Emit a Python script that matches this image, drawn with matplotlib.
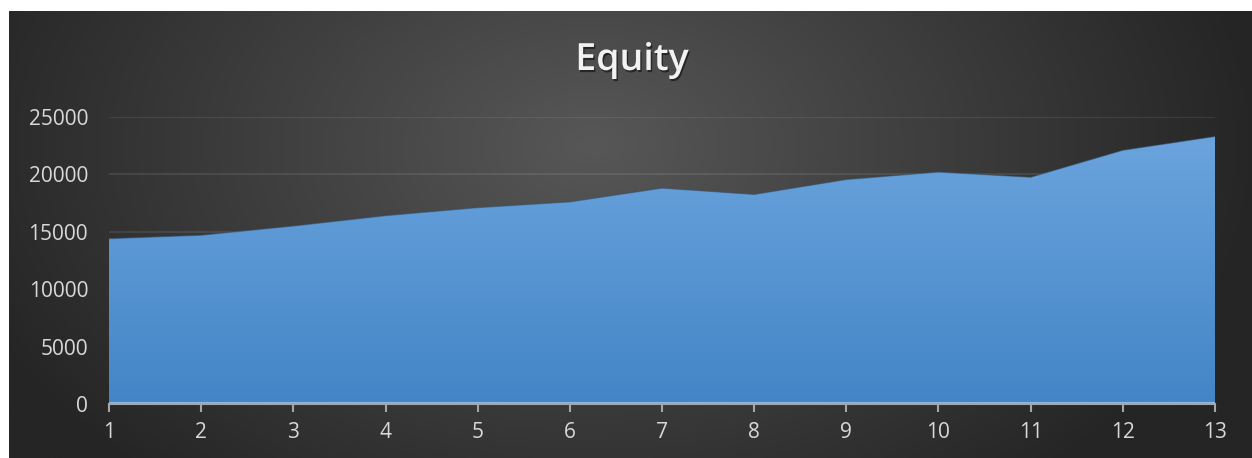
import matplotlib.pyplot as plt
import matplotlib.patheffects as pe
import numpy as np
from matplotlib.colors import LinearSegmentedColormap

# data
periods = list(range(1, 14))
equity = [14400, 14700, 15500, 16400, 17100, 17600, 18800,
          18250, 19550, 20200, 19750, 22100, 23300]
y_ticks = [0, 5000, 10000, 15000, 20000, 25000]

W, H = 1252, 458
fig = plt.figure(figsize=(W / 100, H / 100), dpi=100)
fig.patch.set_facecolor('white')

# dark radial background (starts a few px in from left/top)
bg = fig.add_axes([9 / W, 0, 1 - 9 / W, 1 - 11 / H])
bg.set_axis_off()
gx, gy = np.meshgrid(np.linspace(0, 1, 400), np.linspace(0, 1, 150))
r = np.sqrt(((gx - 0.47) / 0.75) ** 2 + ((gy - 0.3) / 1.4) ** 2)
r = np.clip(r / 0.72, 0, 1)
bg_cmap = LinearSegmentedColormap.from_list('bg', ['#575757', '#3e3e3e', '#252525'])
bg.imshow(r, cmap=bg_cmap, aspect='auto', extent=[0, 1, 0, 1], origin='upper')
bg.set_xlim(0, 1)
bg.set_ylim(0, 1)

ax = fig.add_axes([109 / W, 1 - 404 / H, (1215 - 109) / W, (404 - 117) / H])
ax.patch.set_alpha(0)
ax.set_xlim(1, 13)
ax.set_ylim(0, 25000)

# gradient-filled area
poly = ax.fill_between(periods, equity, 0, color='none')
area_cmap = LinearSegmentedColormap.from_list('area', ['#4385c7', '#6ba4dd'])
grad = np.linspace(0, 1, 256).reshape(-1, 1)
img = ax.imshow(grad, cmap=area_cmap, aspect='auto', origin='lower',
                extent=[1, 13, 0, max(equity)], zorder=2)
img.set_clip_path(poly.get_paths()[0], transform=ax.transData)
ax.plot(periods, equity, color='#2f4f6f', lw=0.8, alpha=0.5, zorder=3)
ax.axhline(60, color='#8cb8e4', lw=1.5, zorder=3)

ax.set_yticks(y_ticks)
ax.set_xticks(periods)
ax.grid(axis='y', color='#ffffff', alpha=0.1, lw=1.2, zorder=0)
ax.set_axisbelow(True)
for s in ['top', 'right', 'left']:
    ax.spines[s].set_visible(False)
ax.spines['bottom'].set_color('#a6a6a6')
ax.spines['bottom'].set_linewidth(1.5)
ax.spines['bottom'].set_zorder(4)
ax.tick_params(axis='x', colors='#a6a6a6', length=6, width=1.5, pad=7,
               labelcolor='#d9d9d9', labelsize=15)
ax.tick_params(axis='y', length=0, pad=15, labelcolor='#d9d9d9', labelsize=15)
for lab in ax.get_xticklabels() + ax.get_yticklabels():
    lab.set_fontfamily('Open Sans')

fig.text(632 / W, 1 - 60 / H, 'Equity', ha='center', va='center',
         color='#f2f2f2', fontsize=27, fontweight='semibold', fontfamily='Open Sans',
         path_effects=[pe.withSimplePatchShadow(offset=(1, -1.5), shadow_rgbFace='black', alpha=0.5)])

fig.savefig('out.png', dpi=100)
